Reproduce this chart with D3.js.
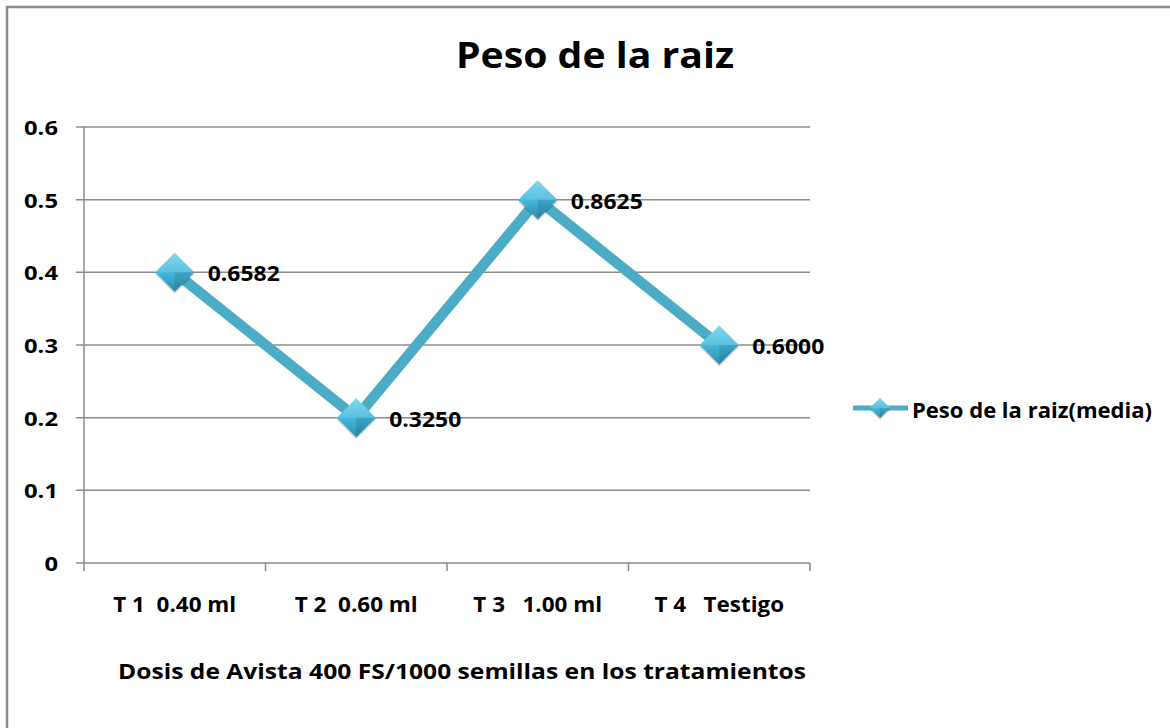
<!DOCTYPE html>
<html><head><meta charset="utf-8">
<script src="https://cdn.jsdelivr.net/npm/d3@7"></script>
<style>body{margin:0;background:#fff}svg{display:block}text{font-family:"Open Sans",Lato,sans-serif;font-weight:bold;fill:#000}</style>
</head><body><svg id="c" width="1170" height="728"></svg>
<script>
const categories = ["T 1  0.40 ml", "T 2  0.60 ml", "T 3   1.00 ml", "T 4   Testigo"];
const values = [0.4, 0.2, 0.5, 0.3];
const dataLabels = ["0.6582", "0.3250", "0.8625", "0.6000"];
const yTicks = [0, 0.1, 0.2, 0.3, 0.4, 0.5, 0.6];
const tickLabels = ["0", "0.1", "0.2", "0.3", "0.4", "0.5", "0.6"];
const seriesName = "Peso de la raiz(media)";
const title = "Peso de la raiz";
const xTitle = "Dosis de Avista 400 FS/1000 semillas en los tratamientos";

const svg = d3.select("#c");
const defs = svg.append("defs");
const g1 = defs.append("linearGradient").attr("id","dg").attr("x1",0).attr("y1",0).attr("x2",0).attr("y2",1);
g1.append("stop").attr("offset","0%").attr("stop-color","#6fd3ef");
g1.append("stop").attr("offset","50%").attr("stop-color","#44b8db");
g1.append("stop").attr("offset","100%").attr("stop-color","#2a8fb0");

function fit(sel, k){
  sel.each(function(){
    const n=this.getComputedTextLength();
    d3.select(this).attr("textLength", n*k).attr("lengthAdjust","spacingAndGlyphs");
  });
}

svg.append("path").attr("d","M7,728 L7,7 L1170,7").attr("fill","none").attr("stroke","#8c8c8c").attr("stroke-width",2.5);

const L=84,R=810,T=127,B=563;
const x = d3.scaleBand().domain(categories).range([L,R]).padding(0);
const y = d3.scaleLinear().domain([0,0.6]).range([B,T]);

svg.append("g").selectAll("line").data(yTicks).join("line")
  .attr("x1",L-8).attr("x2",R).attr("y1",d=>y(d)).attr("y2",d=>y(d))
  .attr("stroke","#8c8c8c").attr("stroke-width",1.5);
svg.append("line").attr("x1",L).attr("x2",L).attr("y1",T).attr("y2",B).attr("stroke","#8c8c8c").attr("stroke-width",1.5);
const yl = svg.append("g").selectAll("text").data(yTicks).join("text")
  .attr("x",58).attr("y",d=>y(d)+8).attr("text-anchor","end")
  .attr("font-size",19).text((d,i)=>tickLabels[i]);
fit(yl,1.25);

const xt = categories.map(c=>x(c)).concat([R]);
svg.append("g").selectAll("line").data(xt).join("line")
  .attr("x1",d=>d).attr("x2",d=>d).attr("y1",B).attr("y2",B+8).attr("stroke","#8c8c8c").attr("stroke-width",1.5);
const xl = svg.append("g").selectAll("text").data(categories).join("text")
  .attr("x",d=>x(d)+x.bandwidth()/2).attr("y",612).attr("text-anchor","middle")
  .attr("font-size",22).attr("xml:space","preserve").style("white-space","pre").text(d=>d);
fit(xl,1.02);

svg.append("text").attr("x",595).attr("y",68).attr("text-anchor","middle").attr("font-size",35).text(title)
  .attr("textLength",278).attr("lengthAdjust","spacingAndGlyphs");
svg.append("text").attr("x",462).attr("y",679).attr("text-anchor","middle").attr("font-size",21).text(xTitle)
  .attr("textLength",688).attr("lengthAdjust","spacingAndGlyphs");

const pts = categories.map((c,i)=>[x(c)+x.bandwidth()/2, y(values[i])]);
svg.append("path").attr("d",d3.line()(pts)).attr("fill","none").attr("stroke","#4bacc6").attr("stroke-width",10.5).attr("stroke-linejoin","miter");

function diamond(sel,cx,cy,r){
  const gg = sel.append("g").attr("transform",`translate(${cx},${cy})`);
  gg.append("path").attr("d",`M0,${-r+2} L${r},2 L0,${r+2} L${-r},2Z`).attr("fill","rgba(0,0,0,0.18)");
  gg.append("path").attr("d",`M0,${-r} L${r},0 L0,${r} L${-r},0Z`).attr("fill","url(#dg)");
  gg.append("path").attr("d",`M0,${-r} L${r},0 L0,0 L${-r},0Z`).attr("fill","rgba(255,255,255,0.12)");
  gg.append("path").attr("d",`M0,0 L${r},0 L0,${r}Z`).attr("fill","rgba(0,0,0,0.10)");
}
pts.forEach(p=>diamond(svg,p[0],p[1],19.5));

svg.append("g").selectAll("text").data(pts).join("text")
  .attr("x",d=>d[0]+33).attr("y",d=>d[1]+9).attr("font-size",22).text((d,i)=>dataLabels[i])
  .attr("textLength",72).attr("lengthAdjust","spacingAndGlyphs");

svg.append("line").attr("x1",853).attr("x2",908).attr("y1",408).attr("y2",408).attr("stroke","#4bacc6").attr("stroke-width",5);
diamond(svg,880,408,10);
svg.append("text").attr("x",912).attr("y",418).attr("font-size",21).text(seriesName)
  .attr("textLength",240).attr("lengthAdjust","spacingAndGlyphs");
</script></body></html>
